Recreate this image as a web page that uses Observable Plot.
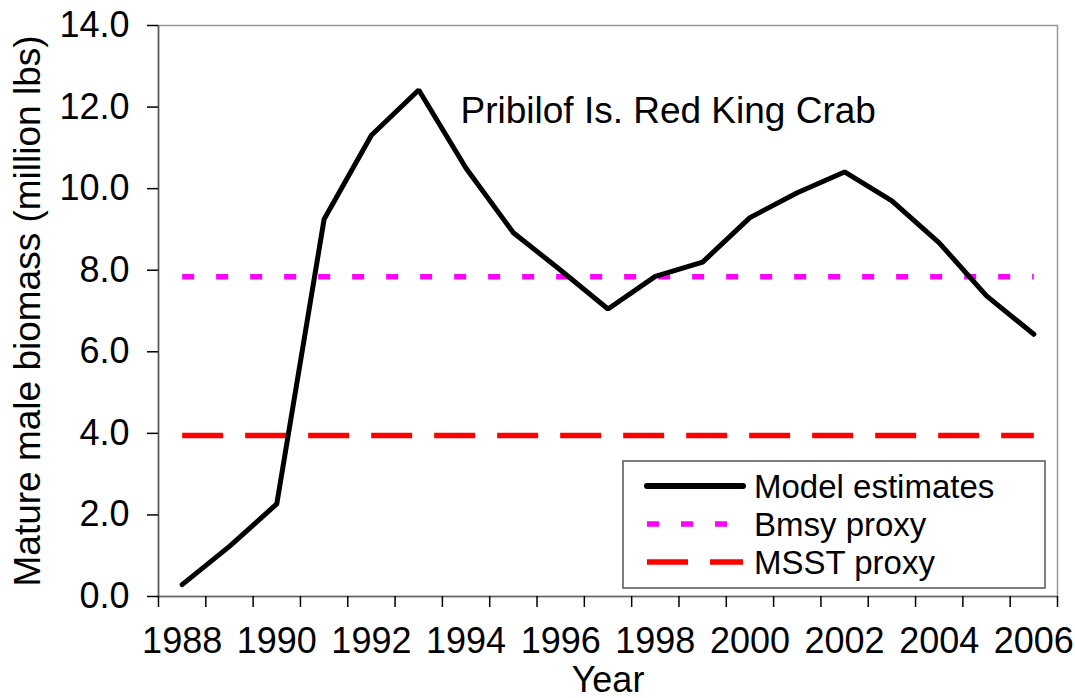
<!DOCTYPE html>
<html>
<head>
<meta charset="utf-8">
<script src="https://cdn.jsdelivr.net/npm/d3@7"></script>
<script src="https://cdn.jsdelivr.net/npm/@observablehq/plot@0.6"></script>
<style>
html, body { margin: 0; padding: 0; background: #fff; }
#chart { position: relative; width: 1075px; height: 698px; font-family: "Liberation Sans", Arial, sans-serif; }
#legend { position: absolute; left: 622px; top: 460px; }
</style>
</head>
<body>
<div id="chart"></div>
<script>
// ---- data ----
const years = [1988, 1989, 1990, 1991, 1992, 1993, 1994, 1995, 1996, 1997, 1998, 1999, 2000, 2001, 2002, 2003, 2004, 2005, 2006];
const modelEstimates = [0.29, 1.23, 2.27, 9.25, 11.31, 12.42, 10.50, 8.92, 8.0, 7.05, 7.85, 8.2, 9.29, 9.9, 10.41, 9.70, 8.67, 7.37, 6.43];
const bmsyProxy = 7.84;
const msstProxy = 3.95;
const yTicks = [0, 2, 4, 6, 8, 10, 12, 14];
const xLabelYears = [1988, 1990, 1992, 1994, 1996, 1998, 2000, 2002, 2004, 2006];
const chartTitle = "Pribilof Is. Red King Crab";
const yTitle = "Mature male biomass (million lbs)";
const xTitle = "Year";
const seriesNames = ["Model estimates", "Bmsy proxy", "MSST proxy"];
const seriesColors = ["#000000", "#ff00ff", "#ff0000"];
const seriesDash = [null, "12,22", "41,22"];

// ---- derived tables ----
const modelData = years.map((y, i) => ({year: y, value: modelEstimates[i]}));
const bmsyData = years.map(y => ({year: y, value: bmsyProxy}));
const msstData = years.map(y => ({year: y, value: msstProxy}));
const boundaries = years.map(y => y - 0.5).concat([years[years.length - 1] + 0.5]);

const plot = Plot.plot({
  width: 1075,
  height: 698,
  marginLeft: 158,
  marginRight: 18,
  marginTop: 25,
  marginBottom: 102,
  style: {fontFamily: "'Liberation Sans', Arial, sans-serif", fontSize: "36px", background: "#fff", overflow: "visible"},
  x: {type: "linear", domain: [boundaries[0], boundaries[boundaries.length - 1]]},
  y: {type: "linear", domain: [0, 14]},
  marks: [
    Plot.frame({stroke: "#999", strokeWidth: 1.5}),
    Plot.ruleY([0], {stroke: "#666", strokeWidth: 1.5}),
    Plot.ruleX([boundaries[0]], {stroke: "#555", strokeWidth: 1.5}),
    Plot.axisY({ticks: yTicks, tickFormat: d => d.toFixed(1), tickSize: 11, tickPadding: 18, fontSize: 36, label: null, strokeWidth: 1.5}),
    Plot.axisX({ticks: boundaries, tickFormat: () => "", tickSize: 11, label: null, strokeWidth: 1.5}),
    Plot.axisX({ticks: xLabelYears, tickFormat: d => String(d), tickSize: 0, tickPadding: 31, fontSize: 36, label: null}),
    Plot.line(msstData, {x: "year", y: "value", stroke: seriesColors[2], strokeWidth: 5.5, strokeDasharray: seriesDash[2], strokeLinecap: "butt"}),
    Plot.line(bmsyData, {x: "year", y: "value", stroke: seriesColors[1], strokeWidth: 5.5, strokeDasharray: seriesDash[1], strokeLinecap: "butt"}),
    Plot.line(modelData, {x: "year", y: "value", stroke: seriesColors[0], strokeWidth: 5, strokeLinejoin: "miter", strokeLinecap: "round"}),
    Plot.text([chartTitle], {frameAnchor: "top-left", textAnchor: "start", lineAnchor: "middle", dx: 302, dy: 86, fontSize: 37, fill: "#000"}),
    Plot.text([yTitle], {frameAnchor: "left", rotate: -90, lineAnchor: "middle", textAnchor: "middle", dx: -130, fontSize: 37, fill: "#000"}),
    Plot.text([xTitle], {frameAnchor: "bottom", lineAnchor: "middle", textAnchor: "middle", dy: 83.5, fontSize: 36, fill: "#000"})
  ]
});

const chart = document.getElementById("chart");
chart.appendChild(plot);

// ---- legend (inside plot area) ----
const lw = 423, lh = 128, rowGap = 38;
const legend = d3.select(chart).append("svg")
  .attr("id", "legend")
  .attr("width", lw + 2).attr("height", lh + 2);
legend.append("rect")
  .attr("x", 1).attr("y", 1).attr("width", lw - 1).attr("height", lh - 1)
  .attr("fill", "#fff").attr("stroke", "#555").attr("stroke-width", 1.5);
seriesNames.forEach((name, i) => {
  const cy = 26 + i * rowGap;
  legend.append("line")
    .attr("x1", 25).attr("x2", 121).attr("y1", cy).attr("y2", cy)
    .attr("stroke", seriesColors[i])
    .attr("stroke-width", i === 0 ? 6 : 5.5)
    .attr("stroke-linecap", i === 0 ? "round" : "butt")
    .attr("stroke-dasharray", seriesDash[i]);
  legend.append("text")
    .attr("x", 132).attr("y", cy).attr("dy", "0.36em")
    .attr("font-family", "'Liberation Sans', Arial, sans-serif")
    .attr("font-size", 33)
    .attr("fill", "#000")
    .text(name);
});
</script>
</body>
</html>
